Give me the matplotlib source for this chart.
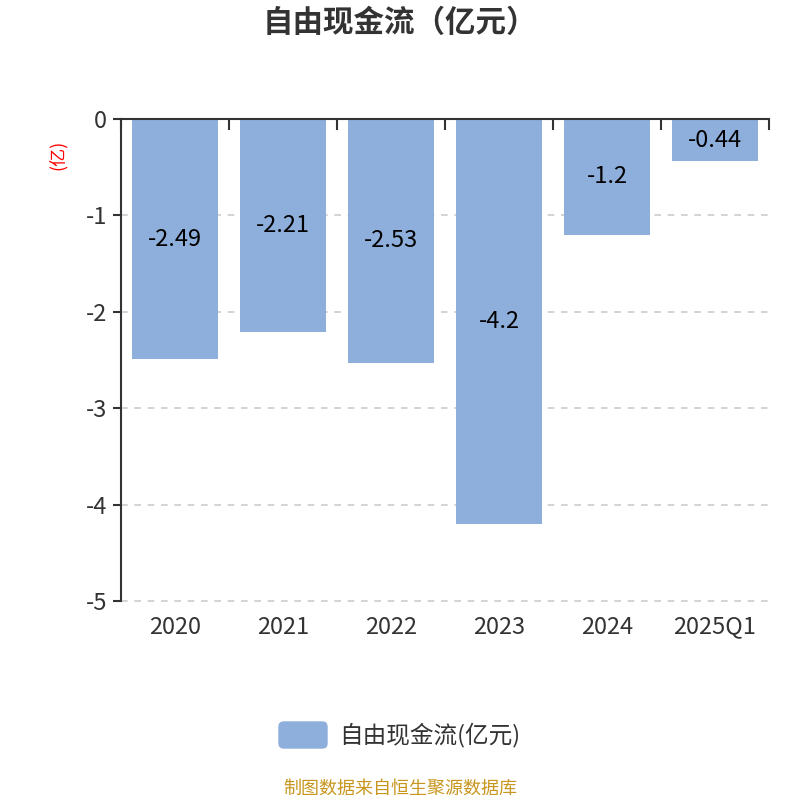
import matplotlib.pyplot as plt
from matplotlib.patches import FancyBboxPatch

plt.rcParams['font.family'] = ['Noto Sans CJK SC', 'DejaVu Sans']

years = ["2020", "2021", "2022", "2023", "2024", "2025Q1"]
fcf = [-2.49, -2.21, -2.53, -4.2, -1.2, -0.44]
value_labels = ["-2.49", "-2.21", "-2.53", "-4.2", "-1.2", "-0.44"]
yticks = [0, -1, -2, -3, -4, -5]

bar_color = "#8EAEDB"
text_color = "#333333"

fig = plt.figure(figsize=(8, 8), dpi=100)
ax = fig.add_axes([0.15125, 0.24875, 0.81, 0.6025])

x = list(range(len(years)))
ax.bar(x, fcf, width=0.8, color=bar_color, zorder=2)
for xi, v, lab in zip(x, fcf, value_labels):
    ax.text(xi, v / 2, lab, ha="center", va="center", fontsize=17, color="black", zorder=3)

ax.set_xlim(-0.5, len(years) - 0.5)
ax.set_ylim(-5, 0)

# grid
for t in yticks[1:]:
    ax.axhline(t, color="#cccccc", linestyle=(0, (4, 4)), linewidth=1.2, zorder=1,
               clip_on=False)

# spines
for s in ["right", "bottom"]:
    ax.spines[s].set_visible(False)
ax.spines["top"].set_color(text_color)
ax.spines["left"].set_color(text_color)
ax.spines["top"].set_linewidth(1.5)
ax.spines["left"].set_linewidth(1.5)

ax.set_yticks(yticks)
ax.set_yticklabels([str(t) for t in yticks])
ax.tick_params(axis="y", length=6, width=1.5, color=text_color, labelsize=17,
               labelcolor=text_color, pad=4)

# category labels at bottom, boundary ticks on top
ax.set_xticks(x)
ax.set_xticklabels(years)
ax.tick_params(axis="x", which="major", bottom=False, top=False, labelsize=17,
               labelcolor=text_color, pad=7)
ax.set_xticks([i - 0.5 for i in range(len(years) + 1)], minor=True)
ax.tick_params(axis="x", which="minor", bottom=False, top=True, direction="in",
               length=8, width=1.5, color=text_color)

fig.text(0.0725, 0.806, "(亿)", rotation=90, color="red", fontsize=13,
         ha="center", va="center")

fig.text(0.5, 1 - 23 / 800, "自由现金流（亿元）", ha="center", va="center",
         fontsize=22, fontweight="bold", color=text_color)

# legend
patch = FancyBboxPatch((279 / 800, 1 - 748 / 800), 48 / 800, 26 / 800,
                       boxstyle="round,pad=0,rounding_size=0.006",
                       transform=fig.transFigure, color=bar_color)
fig.patches.append(patch)
fig.text(339 / 800, 1 - 735 / 800, "自由现金流(亿元)", ha="left", va="center",
         fontsize=17, color=text_color)

fig.text(0.5, 1 - 789 / 800, "制图数据来自恒生聚源数据库", ha="center", va="center",
         fontsize=13, color="#C8961E")

fig.savefig("out.png", dpi=100)
